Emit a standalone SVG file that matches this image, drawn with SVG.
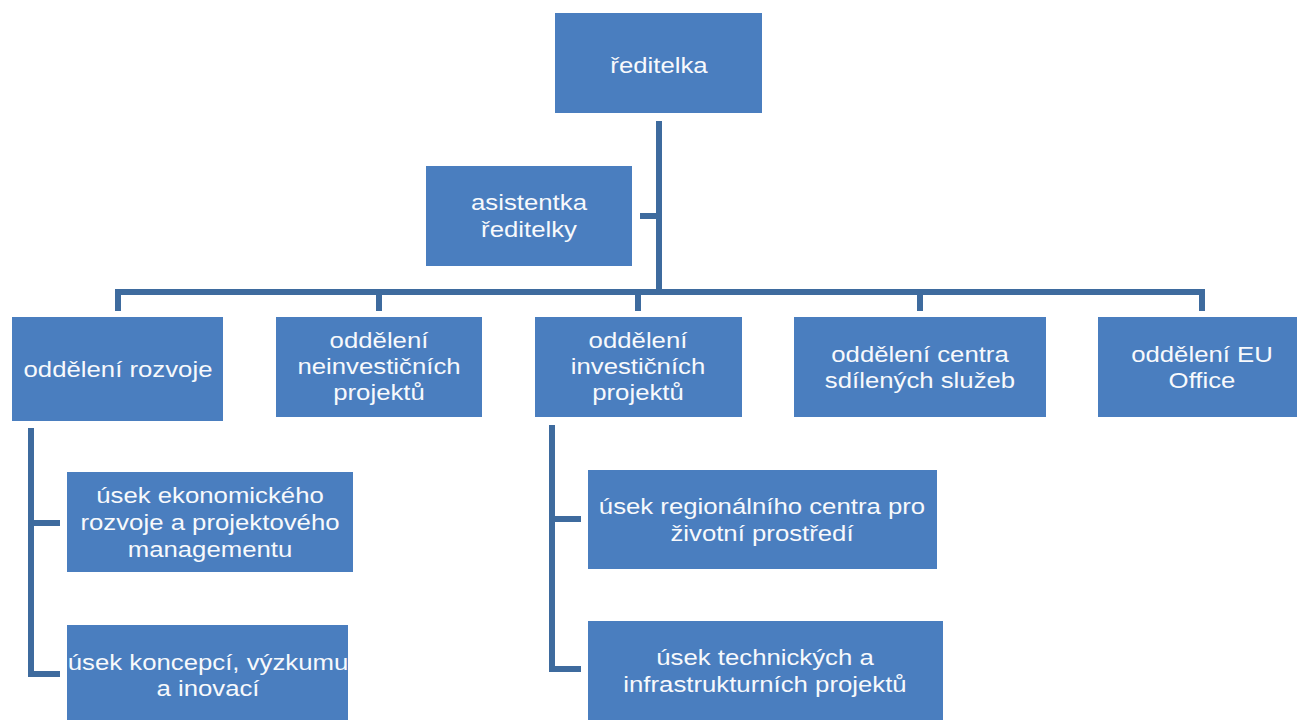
<svg xmlns="http://www.w3.org/2000/svg" width="1297" height="720" viewBox="0 0 1297 720">
<style>
.n{fill:#4A7EBF}
.t{font-family:"Liberation Sans",Arial,sans-serif;font-size:23px;fill:#F7F9FC;text-anchor:middle}
.c{fill:none;stroke:#3E6B9E;stroke-width:6;stroke-linejoin:miter;stroke-linecap:butt}
</style>
<rect width="1297" height="720" fill="#FFFFFF"/>
<g id="connectors">
<path class="c" d="M659,121 V292"/>
<path class="c" d="M640,216 H659"/>
<path class="c" d="M118,311 V292 H1202 V311"/>
<path class="c" d="M379,292 V311 M638,292 V311 M920,292 V311"/>
<path class="c" d="M31,428 V674 H60 M31,523 H60"/>
<path class="c" d="M552,425 V669 H581 M552,519 H581"/>
</g>
<g id="reditelka">
<rect class="n" x="555" y="13" width="207" height="100"/>
<text class="t" transform="translate(659,73) scale(1.12,1)">ředitelka</text>
</g>
<g id="asistentka">
<rect class="n" x="426" y="166" width="206" height="100"/>
<text class="t" transform="translate(529,210) scale(1.12,1)">asistentka</text>
<text class="t" transform="translate(529,237) scale(1.12,1)">ředitelky</text>
</g>
<g id="rozvoje">
<rect class="n" x="12" y="317" width="211" height="104"/>
<text class="t" transform="translate(118,377) scale(1.12,1)">oddělení rozvoje</text>
</g>
<g id="neinvesticnich">
<rect class="n" x="276" y="317" width="206" height="100"/>
<text class="t" transform="translate(379,348) scale(1.12,1)">oddělení</text>
<text class="t" transform="translate(379,374) scale(1.12,1)">neinvestičních</text>
<text class="t" transform="translate(379,400) scale(1.12,1)">projektů</text>
</g>
<g id="investicnich">
<rect class="n" x="535" y="317" width="207" height="100"/>
<text class="t" transform="translate(638,348) scale(1.12,1)">oddělení</text>
<text class="t" transform="translate(638,374) scale(1.12,1)">investičních</text>
<text class="t" transform="translate(638,400) scale(1.12,1)">projektů</text>
</g>
<g id="centra">
<rect class="n" x="794" y="317" width="252" height="100"/>
<text class="t" transform="translate(920,362) scale(1.12,1)">oddělení centra</text>
<text class="t" transform="translate(920,388) scale(1.12,1)">sdílených služeb</text>
</g>
<g id="euoffice">
<rect class="n" x="1098" y="317" width="199" height="100"/>
<text class="t" transform="translate(1202,362) scale(1.12,1)">oddělení EU</text>
<text class="t" transform="translate(1202,388) scale(1.12,1)">Office</text>
</g>
<g id="ekonomickeho">
<rect class="n" x="67" y="472" width="286" height="100"/>
<text class="t" transform="translate(210,503) scale(1.12,1)">úsek ekonomického</text>
<text class="t" transform="translate(210,530) scale(1.12,1)">rozvoje a projektového</text>
<text class="t" transform="translate(210,557) scale(1.12,1)">managementu</text>
</g>
<g id="koncepci">
<rect class="n" x="67" y="625" width="281" height="95"/>
<text class="t" transform="translate(208,670) scale(1.12,1)">úsek koncepcí, výzkumu</text>
<text class="t" transform="translate(208,696) scale(1.12,1)">a inovací</text>
</g>
<g id="regionalniho">
<rect class="n" x="588" y="470" width="349" height="99"/>
<text class="t" transform="translate(762,514) scale(1.12,1)">úsek regionálního centra pro</text>
<text class="t" transform="translate(762,541) scale(1.12,1)">životní prostředí</text>
</g>
<g id="technickych">
<rect class="n" x="588" y="621" width="355" height="99"/>
<text class="t" transform="translate(765,665) scale(1.12,1)">úsek technických a</text>
<text class="t" transform="translate(765,692) scale(1.12,1)">infrastrukturních projektů</text>
</g>
</svg>
